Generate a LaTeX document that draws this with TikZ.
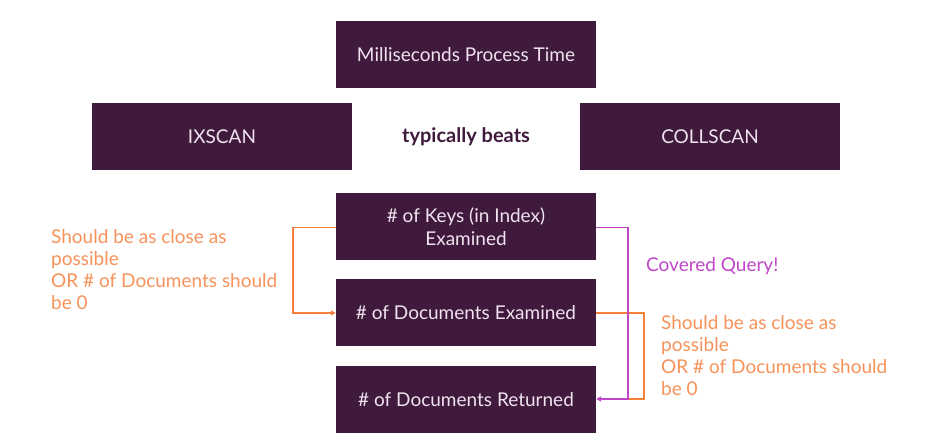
\documentclass[tikz,border=0pt]{standalone}
\usepackage{fontspec}
\setmainfont{Lato}
\usetikzlibrary{arrows.meta,positioning}
\definecolor{boxpurple}{RGB}{63,26,60}
\definecolor{boxtext}{RGB}{240,226,238}
\definecolor{noteorange}{RGB}{245,128,60}
\definecolor{textorange}{RGB}{246,146,90}
\definecolor{covmagenta}{RGB}{192,70,200}
\tikzset{
  metric/.style={rectangle,fill=boxpurple,text=boxtext,minimum width=260pt,minimum height=67pt,inner sep=2pt,align=center,font=\fontsize{19}{23}\selectfont},
  note/.style={align=left,inner sep=0pt,anchor=north west,font=\fontsize{19}{22}\selectfont},
  every edge/.style={draw,->,>=Latex}
}

\begin{document}
\begin{tikzpicture}[
    x=1pt,y=-1pt,
    node distance=19pt,
    >={Triangle[length=5pt,width=5pt]}
]
\useasboundingbox (0,0) rectangle (939,437);

% =========================================================
% Top: time and scan types
% =========================================================

\node[metric] (ms) at (466,54.5) {Milliseconds Process Time};

\node[metric] (ix) at (222,136.5) {IXSCAN};
\node[metric] (coll) at (710,136.5) {COLLSCAN};
\node[font=\fontsize{20}{22}\selectfont\bfseries,text=boxpurple] (beats) at (466,136.5) {typically beats};

% =========================================================
% Counters
% =========================================================

\node[metric] (keys) at (466,226.5) {\# of Keys (in Index)\\Examined};
\node[metric,below=of keys] (docsex) {\# of Documents Examined};
\node[metric,below=of docsex] (docsret) {\# of Documents Returned};

\coordinate (join) at (628,399);

% orange: keys vs documents examined
\draw[noteorange,line width=1.5pt,->] ([yshift=-1pt]keys.west) -- ++(-43,0) |- (docsex.west);
\node[note,text=textorange] (leftnote) at (51,229)
  {Should be as close as\\possible\\OR \# of Documents should\\be 0};

% orange: documents examined vs returned
\draw[noteorange,line width=1.5pt] (docsex.east) -- ++(48,0) |- (join);
\node[note,text=textorange] (rightnote) at (661,315)
  {Should be as close as\\possible\\OR \# of Documents should\\be 0};

% magenta: covered query
\draw[covmagenta,line width=1.5pt,->] ([yshift=-1pt]keys.east) -| (join) -- (docsret.east |- join);
\node[note,text=covmagenta] (covered) at (646,257) {Covered Query!};

\end{tikzpicture}
\end{document}
